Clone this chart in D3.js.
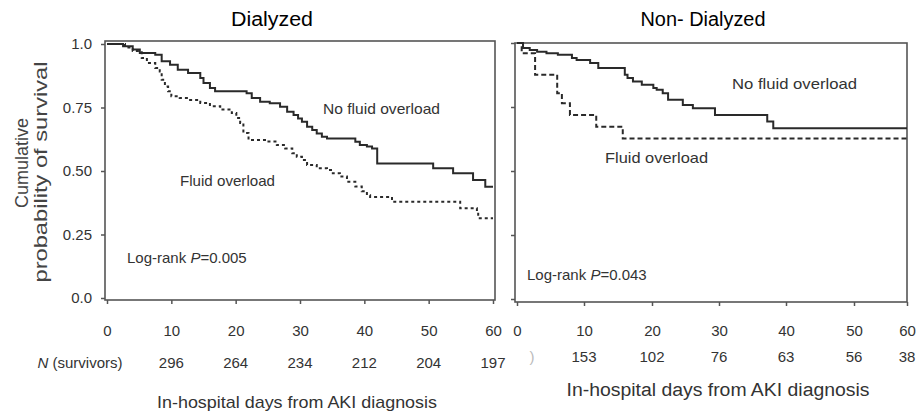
<!DOCTYPE html>
<html>
<head>
<meta charset="utf-8">
<script src="https://cdn.jsdelivr.net/npm/d3@7"></script>
<style>
  body { margin: 0; background: #fff; }
  text { font-family: "Liberation Sans", Arial, sans-serif; fill: #333; }
</style>
</head>
<body>
<script>
// data
var days = [0, 10, 20, 30, 40, 50, 60];
var survTicks = [0, 0.25, 0.5, 0.75, 1];
var survTickLabels = ["0.0", "0.25", "0.50", "0.75", "1.0"];
var nDays = [10, 20, 30, 40, 50, 60];
var dialN = [296, 264, 234, 212, 204, 197];
var nonDialN = [153, 102, 76, 63, 56, 38];

// Kaplan-Meier steps [day, survival]
var dialNoFO = [[0,1],[2.5,0.991],[4,0.978],[5.1,0.965],[7.5,0.958],[8.5,0.932],[9.8,0.918],
  [11,0.899],[12.6,0.886],[14.5,0.866],[15,0.846],[16,0.827],[16.8,0.814],[21.7,0.806],
  [22.5,0.787],[23.8,0.773],[25.3,0.767],[26.9,0.753],[28,0.733],[29,0.72],[29.7,0.707],
  [30.3,0.694],[31.1,0.674],[31.9,0.661],[32.6,0.648],[33.4,0.635],[34.2,0.628],[38.6,0.615],
  [39.3,0.602],[40.4,0.596],[41.2,0.589],[42,0.53],[50.7,0.511],[53.8,0.491],[56.9,0.465],
  [58.8,0.438],[60,0.438]];
var dialFO = [[0,1],[2.8,0.986],[4,0.972],[5.4,0.945],[6.2,0.925],[7.5,0.906],[8.2,0.892],
  [8.5,0.859],[9,0.833],[9.5,0.814],[10,0.794],[11.3,0.787],[12.6,0.78],[14.5,0.768],[16,0.755],
  [17.6,0.742],[19.4,0.728],[20.1,0.709],[20.7,0.689],[21.2,0.65],[22,0.622],[24.9,0.616],
  [26.4,0.602],[27.7,0.589],[28.8,0.57],[29.5,0.556],[30.3,0.543],[31.1,0.524],[32.6,0.511],
  [34.2,0.504],[35.1,0.491],[36.2,0.478],[37.3,0.458],[38.6,0.439],[39.6,0.42],[40.4,0.405],
  [40.9,0.398],[44.3,0.379],[54.9,0.353],[57.5,0.34],[57.7,0.314],[60,0.314]];
var nonDialNoFO = [[0,1],[0.9,0.98],[1.9,0.973],[3,0.966],[4.4,0.96],[6.1,0.954],[8.2,0.941],
  [8.9,0.934],[10.9,0.922],[12.1,0.902],[16,0.876],[16.4,0.863],[17.2,0.85],[18.5,0.837],
  [20.2,0.824],[20.7,0.817],[21.6,0.804],[22.4,0.778],[24.6,0.758],[26.1,0.745],[29.4,0.719],
  [37.2,0.693],[38.1,0.667],[60,0.667]];
var nonDialFO = [[0,1],[0.7,0.96],[2.7,0.876],[6,0.804],[6.7,0.765],[7.9,0.719],[11.8,0.673],
  [15.7,0.627],[60,0.627]];

var svg = d3.select("body").append("svg")
  .attr("width", 919)
  .attr("height", 416);

var line = function(x, y) {
  return d3.line()
    .x(function(d) { return x(d[0]); })
    .y(function(d) { return y(d[1]); })
    .curve(d3.curveStepAfter);
};

function panel(opt) {
  var x = opt.x, y = opt.y;
  var g = svg.append("g");

  // frame
  g.append("rect")
    .attr("x", opt.box[0]).attr("y", opt.box[1])
    .attr("width", opt.box[2] - opt.box[0]).attr("height", opt.box[3] - opt.box[1])
    .attr("fill", "none").attr("stroke", "#555").attr("stroke-width", 1.6);

  // y ticks
  var ya = g.append("g")
    .attr("transform", "translate(" + opt.box[0] + ",0)")
    .call(d3.axisLeft(y).tickValues(survTicks).tickSize(4).tickPadding(9)
      .tickFormat(function(d, i) { return opt.yLabels ? survTickLabels[i] : ""; }));
  ya.select(".domain").remove();
  ya.selectAll("line").attr("stroke", "#555").attr("stroke-width", 1.5);
  ya.selectAll("text").style("font-size", "15px").attr("fill", "#333")
    .style("font-family", "'Liberation Sans', Arial, sans-serif");

  // x ticks
  var xa = g.append("g")
    .attr("transform", "translate(0," + opt.box[3] + ")")
    .call(d3.axisBottom(x).tickValues(days).tickSize(4).tickPadding(opt.xPad));
  xa.select(".domain").remove();
  xa.selectAll("line").attr("stroke", "#555").attr("stroke-width", 1.5);
  xa.selectAll("text").style("font-size", "15px").attr("fill", "#333")
    .style("font-family", "'Liberation Sans', Arial, sans-serif");

  // number at risk row
  g.selectAll(".nrisk").data(opt.n).enter().append("text")
    .attr("x", function(d, i) { return x(nDays[i]); })
    .attr("y", opt.nY)
    .attr("text-anchor", "middle")
    .style("font-size", "15px")
    .text(function(d) { return d; });

  // curves
  g.append("path").datum(opt.noFO)
    .attr("d", line(x, y))
    .attr("fill", "none").attr("stroke", "#2a2a2a").attr("stroke-width", 2);
  g.append("path").datum(opt.fo)
    .attr("d", line(x, y))
    .attr("fill", "none").attr("stroke", "#2a2a2a").attr("stroke-width", 2)
    .attr("stroke-dasharray", opt.dash);

  return g;
}

// Dialyzed
var xL = d3.scaleLinear().domain([0, 60]).range([107, 493]);
var yL = d3.scaleLinear().domain([0, 1]).range([298, 44]);
var gL = panel({ x: xL, y: yL, box: [105, 41, 495, 300], yLabels: true, xPad: 21,
  n: dialN, nY: 368, noFO: dialNoFO, fo: dialFO, dash: "3,3" });

// Non- Dialyzed
var xR = d3.scaleLinear().domain(days).range([517, 584, 652, 719, 786, 854, 907]);
var yR = d3.scaleLinear().domain([0, 1]).range([299, 43]);
var gR = panel({ x: xR, y: yR, box: [515, 43, 907, 302], yLabels: false, xPad: 19,
  n: nonDialN, nY: 362, noFO: nonDialNoFO, fo: nonDialFO, dash: "5,3" });

// titles
svg.append("text").attr("x", 272).attr("y", 26).attr("text-anchor", "middle")
  .style("font-size", "20px").style("fill", "#000")
  .attr("textLength", 82).attr("lengthAdjust", "spacingAndGlyphs").text("Dialyzed");
svg.append("text").attr("x", 703).attr("y", 26).attr("text-anchor", "middle")
  .style("font-size", "20px").style("fill", "#000")
  .attr("textLength", 125).attr("lengthAdjust", "spacingAndGlyphs").text("Non- Dialyzed");

function label(g, x, y, txt, w, size) {
  return g.append("text").attr("x", x).attr("y", y)
    .style("font-size", (size || 15) + "px")
    .attr("textLength", w).attr("lengthAdjust", "spacingAndGlyphs")
    .text(txt);
}

label(gL, 323, 114, "No fluid overload", 117);
label(gL, 180, 186, "Fluid overload", 95);
var lr1 = gL.append("text").attr("x", 127).attr("y", 263).style("font-size", "15px");
lr1.append("tspan").text("Log-rank ");
lr1.append("tspan").style("font-style", "italic").text("P");
lr1.append("tspan").text("=0.005");

label(gR, 732, 89, "No fluid overload", 125);
label(gR, 605, 163, "Fluid overload", 103);
var lr2 = gR.append("text").attr("x", 527).attr("y", 280).style("font-size", "15px");
lr2.append("tspan").text("Log-rank ");
lr2.append("tspan").style("font-style", "italic").text("P");
lr2.append("tspan").text("=0.043");

// N (survivors)
var nl = svg.append("text").attr("x", 80).attr("y", 368).attr("text-anchor", "middle")
  .style("font-size", "15px");
nl.append("tspan").style("font-style", "italic").text("N");
nl.append("tspan").text(" (survivors)");
svg.append("text").attr("x", 532).attr("y", 362).attr("text-anchor", "middle")
  .style("font-size", "15px").style("fill", "#bbb").text(")");

// axis titles
svg.append("text").attr("x", 297).attr("y", 408).attr("text-anchor", "middle")
  .style("font-size", "17px").attr("textLength", 280).attr("lengthAdjust", "spacingAndGlyphs")
  .text("In-hospital days from AKI diagnosis");
svg.append("text").attr("x", 718).attr("y", 396).attr("text-anchor", "middle")
  .style("font-size", "18px").attr("textLength", 303).attr("lengthAdjust", "spacingAndGlyphs")
  .text("In-hospital days from AKI diagnosis");

svg.append("text").attr("transform", "translate(28,163) rotate(-90)")
  .attr("text-anchor", "middle").style("font-size", "18px").style("fill", "#444")
  .text("Cumulative");
svg.append("text").attr("transform", "translate(47,172) rotate(-90)")
  .attr("text-anchor", "middle").style("font-size", "18px").style("fill", "#444")
  .attr("textLength", 221).attr("lengthAdjust", "spacingAndGlyphs")
  .text("probability of survival");
</script>
</body>
</html>
